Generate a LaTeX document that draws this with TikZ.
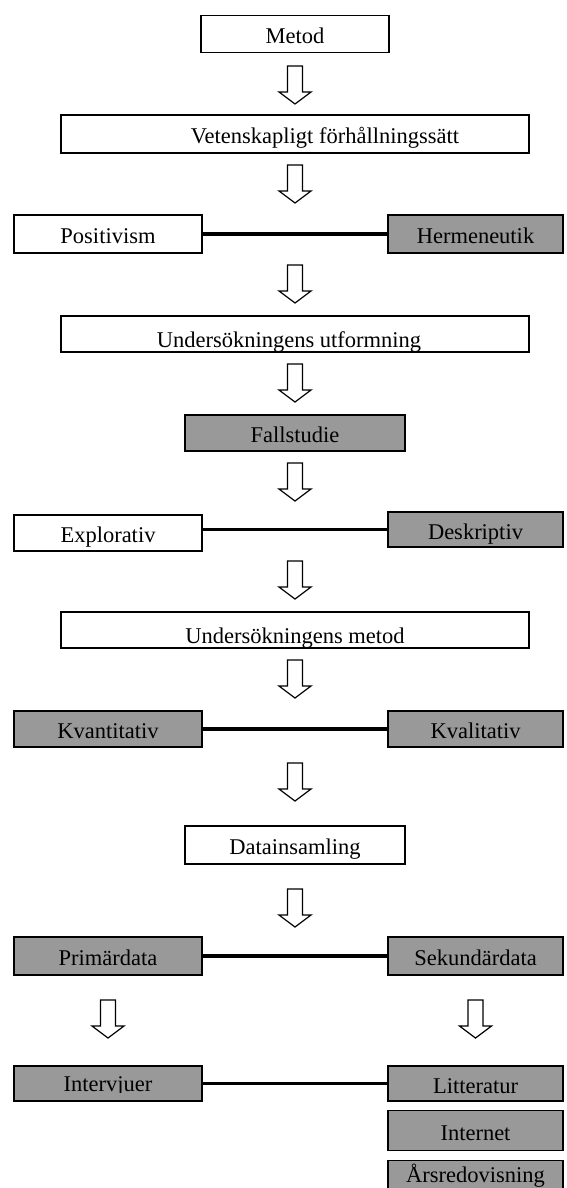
\documentclass[tikz,border=0pt]{standalone}
\usepackage{fontspec}
\setmainfont{Liberation Serif}
\usetikzlibrary{calc}
\definecolor{boxgray}{RGB}{153,153,153}
\newcommand\boxfont{\fontsize{22.5}{26}\selectfont}
\begin{document}
\begin{tikzpicture}[x=1pt,y=-1pt,
  box/.style={draw=black, line width=1.8pt, inner sep=0pt, outer sep=0pt,
    minimum height=37pt, font=\boxfont, text height=23pt, text depth=4pt},
  lowtext/.style={text height=28pt, text depth=2pt},
  plain/.style={box, fill=white},
  shaded/.style={box, fill=boxgray},
  wbox/.style={minimum width=468pt},
  lbox/.style={minimum width=188pt},
  rbox/.style={minimum width=175pt},
  cbox/.style={minimum width=220pt},
  link/.style={line width=3.5pt},
  blockdown/.pic={\draw[line width=1.2pt, fill=white, line join=miter]
    (-7.5,-19) -- (-7.5,7) -- (-16,7) -- (0,19) -- (16,7) -- (7.5,7) -- (7.5,-19) -- cycle;}
]
\useasboundingbox (0,0) rectangle (566,1188);

% main column
\node[plain, minimum width=188pt] (metod) at (295,34) {Metod};
\node[plain, wbox, minimum height=38pt] (vet) at (295,134) {\hspace*{60pt}Vetenskapligt förhållningssätt};
\node[plain, lbox, minimum height=38pt] (pos) at (108,234) {Positivism};
\node[shaded, rbox, minimum height=38pt] (herm) at (475.5,234) {Hermeneutik};
\node[plain, wbox, lowtext, minimum height=36pt] (utf) at (295,334) {Undersökningens utformning\hspace*{12pt}};
\node[shaded, cbox, minimum height=36pt] (fall) at (295,433) {Fallstudie};
\node[plain, lbox, minimum height=36pt] (expl) at (108,533) {Explorativ};
\node[shaded, rbox, minimum height=35pt] (desk) at (475.5,529.5) {Deskriptiv};
\node[plain, wbox, lowtext, minimum height=36pt] (umet) at (295,630) {Undersökningens metod};
\node[shaded, lbox, minimum height=36pt] (kvant) at (108,729) {Kvantitativ};
\node[shaded, rbox, minimum height=36pt] (kval) at (475.5,729) {Kvalitativ};
\node[plain, cbox, minimum height=38pt] (data) at (295,845) {Datainsamling};
\node[shaded, lbox, minimum height=38pt] (prim) at (108,956) {Primärdata};
\node[shaded, rbox, minimum height=38pt] (sek) at (475.5,956) {Sekundärdata};

% sources
\node[shaded, lbox, minimum height=35pt,
  path picture={
    \clip ([yshift=9pt]path picture bounding box.south west) rectangle (path picture bounding box.north east);
    \node[draw=none, fill=none, inner sep=0pt, anchor=base, font=\boxfont]
      at ([yshift=10pt]path picture bounding box.south) {Intervjuer};}] (intv) at (108,1083.5) {};
\node[shaded, rbox, minimum height=35pt] (litt) at (475.5,1083.5) {Litteratur};
\node[shaded, rbox, minimum height=40pt] (inet) at (475.5,1130.5) {Internet};
\node[shaded, rbox, text height=18pt, text depth=12pt] (ars) at (475.5,1179) {Årsredovisning};

% links between alternatives
\draw[link] (pos.east) -- (herm.west);
\draw[link] (desk.west) -- (desk.west -| expl.east);
\draw[link] (kvant.east) -- (kval.west);
\draw[link] (prim.east) -- (sek.west);
\draw[link] (intv.east) -- (litt.west);

% block arrows
\foreach \yy in {85,184,284,383,482,580,679,782,908}
  \pic at (295,\yy) {blockdown};
\pic at (prim.center |- 0,1019) {blockdown};
\pic at (sek.center |- 0,1019) {blockdown};
\end{tikzpicture}
\end{document}
